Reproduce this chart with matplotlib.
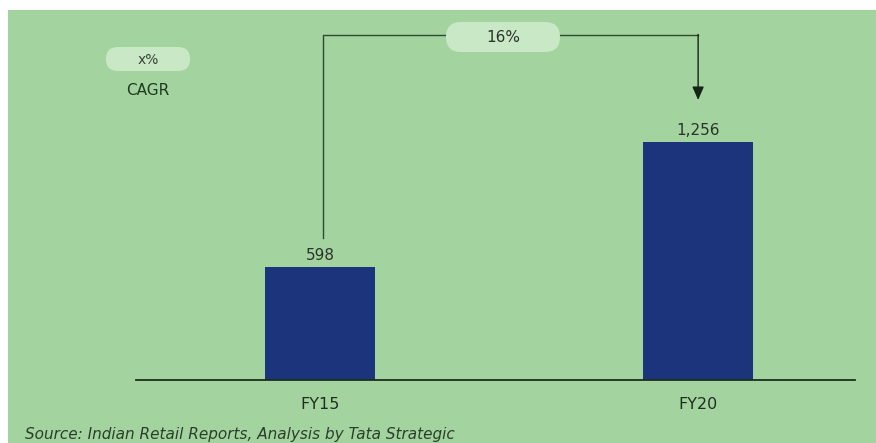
import matplotlib.pyplot as plt
from matplotlib.patches import Rectangle, FancyBboxPatch

# data
categories = ["FY15", "FY20"]
values = [598, 1256]
value_labels = ["598", "1,256"]
cagr_label = "16%"
source_text = "Source: Indian Retail Reports, Analysis by Tata Strategic"

bg = "#a3d4a0"
pill = "#c9e8c5"
bar_color = "#1b347c"
line_color = "#2f4a2f"
text_color = "#2b332b"

W, H = 876, 443
fig = plt.figure(figsize=(W / 100, H / 100), dpi=100)
fig.patch.set_facecolor("white")

# decoration layer in pixel units (background panel, pills, notes)
deco = fig.add_axes([0, 0, 1, 1], zorder=0)
deco.set_xlim(0, W)
deco.set_ylim(H, 0)
deco.axis("off")
deco.add_patch(Rectangle((8, 10), W - 8, H - 10, facecolor=bg,
                         edgecolor="none"))


def pill_box(axis, cx, cy, w, h):
    r = h / 2
    axis.add_patch(FancyBboxPatch((cx - w / 2 + r, cy), w - 2 * r, 0,
                                  boxstyle="round,pad=%f" % r,
                                  facecolor=pill, edgecolor="none"))


left_px, right_px, base_px, top_px = 136, 855, 380, 10
ax = fig.add_axes([left_px / W, (H - base_px) / H,
                   (right_px - left_px) / W, (base_px - top_px) / H],
                  zorder=1)
ax.patch.set_alpha(0)
ax.set_xlim(-0.487, 1.415)
ax.set_ylim(0, 1953)

x = range(len(categories))
ax.bar(x, values, width=0.29, color=bar_color, zorder=2)

for xi, v, lab in zip(x, values, value_labels):
    ax.text(xi, v + 22, lab, ha="center", va="bottom", fontsize=11,
            color=text_color)

for s in ["top", "right", "left"]:
    ax.spines[s].set_visible(False)
ax.spines["bottom"].set_color("#1e2e1e")
ax.spines["bottom"].set_linewidth(1.3)
ax.set_yticks([])
ax.set_xticks(list(x))
ax.set_xticklabels(categories, fontsize=11.5, color="#1f2f1f")
ax.tick_params(axis="x", length=0, pad=12)

# CAGR bracket
y_top = 1821
ax.plot([0.008, 0.008, 1.0], [values[0] + 150, y_top, y_top],
        color=line_color, lw=1.0, zorder=1)
ax.annotate("", xy=(1.0, 1478), xytext=(1.0, y_top + 3),
            arrowprops=dict(arrowstyle="-|>,head_width=0.35,head_length=0.8",
                            color="#152515", lw=1.0, shrinkA=0, shrinkB=0))

# pill over the bracket line, drawn on a top layer
top = fig.add_axes([0, 0, 1, 1], zorder=2)
top.set_xlim(0, W)
top.set_ylim(H, 0)
top.axis("off")
pill_box(top, 503, 37, 114, 30)
top.text(503, 37, cagr_label, ha="center", va="center",
         fontsize=11, color=text_color)

# legend-like key
pill_box(deco, 148, 59, 84, 24)
deco.text(148, 60, "x%", ha="center", va="center",
          fontsize=10, color="#3a423a")
deco.text(148, 90, "CAGR", ha="center", va="center",
          fontsize=11, color="#1f3a1f")

deco.text(25, 435, source_text, ha="left", va="center",
          fontsize=11, style="italic", color="#2a3f2a")

fig.savefig("out.png", dpi=100, facecolor=fig.get_facecolor())
